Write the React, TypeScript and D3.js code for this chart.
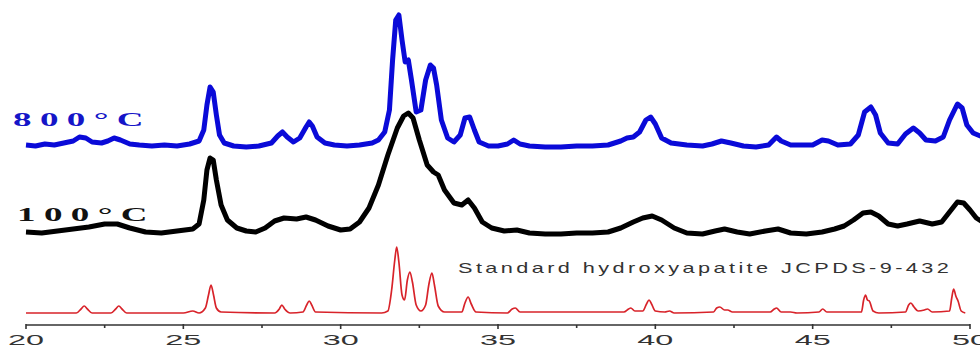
import React from "react";
import * as d3 from "d3";

// 2θ (degrees) and intensity (a.u.) for each pattern
const blueTheta = [20.0,20.3,20.6,20.9,21.2,21.5,21.7,21.9,22.1,22.4,22.6,22.8,23.0,23.3,23.6,24.0,24.4,24.8,25.2,25.5,25.65,25.75,25.85,25.95,26.05,26.15,26.3,26.6,27.0,27.4,27.8,28.0,28.15,28.3,28.5,28.7,28.9,29.0,29.1,29.25,29.5,29.8,30.2,30.6,31.0,31.2,31.4,31.55,31.65,31.75,31.85,31.95,32.05,32.15,32.25,32.4,32.55,32.7,32.85,32.95,33.05,33.2,33.4,33.6,33.8,33.95,34.1,34.25,34.4,34.7,35.0,35.3,35.5,35.7,36.0,36.5,37.0,37.5,38.0,38.5,38.9,39.1,39.3,39.5,39.7,39.85,40.0,40.2,40.5,41.0,41.5,41.8,42.1,42.4,42.8,43.2,43.6,43.85,44.0,44.3,44.7,45.0,45.3,45.5,45.8,46.2,46.45,46.65,46.85,47.0,47.15,47.4,47.7,47.95,48.2,48.4,48.6,48.9,49.15,49.35,49.6,49.75,49.9,50.1,50.4];
const blueInt = [180,179,181,180,182,184,188,187,183,182,184,187,185,181,180,179,180,179,181,184,195,220,238,233,210,190,182,179,178,179,182,189,193,188,183,187,198,203,199,188,182,180,179,180,182,185,193,215,265,305,310,285,263,265,245,213,215,245,260,257,240,205,187,183,190,207,208,195,183,179,179,181,185,181,179,178,178,179,179,180,184,187,188,193,205,208,201,187,182,180,179,181,184,182,179,178,180,188,184,180,180,180,185,184,180,181,190,213,218,210,192,182,181,191,197,192,185,184,188,205,221,217,200,192,188];

const blackTheta = [20.0,20.5,21.0,21.5,22.0,22.5,22.9,23.3,23.8,24.3,24.8,25.3,25.5,25.65,25.75,25.85,25.95,26.05,26.2,26.4,26.7,27.0,27.3,27.6,27.9,28.2,28.6,28.9,29.2,29.6,30.0,30.3,30.6,30.9,31.2,31.5,31.8,32.0,32.15,32.3,32.5,32.75,32.95,33.1,33.3,33.6,33.85,34.05,34.25,34.5,34.8,35.2,35.6,36.0,36.5,37.0,37.5,38.0,38.5,38.9,39.3,39.6,39.9,40.2,40.6,41.0,41.5,41.9,42.2,42.6,43.0,43.5,43.9,44.3,44.8,45.3,45.7,46.0,46.3,46.6,46.85,47.1,47.4,47.7,48.0,48.4,48.8,49.1,49.35,49.6,49.8,50.0,50.2,50.4];
const blackInt = [93,92,94,96,98,101,101,97,93,92,94,96,101,125,155,167,165,145,120,105,97,94,93,97,104,107,106,108,105,99,95,96,103,117,140,170,197,209,212,207,185,160,153,150,135,122,120,125,117,103,97,94,95,92,91,91,92,92,93,97,103,107,109,105,97,92,91,94,96,93,91,94,96,92,91,93,96,99,105,112,113,109,101,99,101,104,101,103,113,123,122,115,107,103];

const redTheta = [20.0,21.6,21.75,21.85,21.95,22.1,22.7,22.85,22.95,23.05,23.2,25.0,25.3,25.5,25.7,25.8,25.88,25.96,26.05,26.2,27.9,28.05,28.13,28.22,28.4,28.8,28.92,29.0,29.08,29.2,31.3,31.5,31.62,31.72,31.78,31.85,31.95,32.03,32.12,32.2,32.28,32.4,32.55,32.7,32.8,32.9,32.98,33.1,33.3,33.85,33.95,34.05,34.15,34.3,35.3,35.45,35.55,35.7,39.0,39.15,39.22,39.35,39.6,39.72,39.8,39.88,40.0,40.3,40.45,40.6,41.85,41.95,42.05,42.2,42.3,42.45,43.65,43.78,43.85,44.0,44.3,44.5,45.2,45.32,45.45,46.55,46.62,46.68,46.74,46.8,46.92,47.1,47.95,48.05,48.12,48.22,48.35,48.55,48.65,48.8,49.35,49.42,49.48,49.55,49.62,49.72,49.85];
const redInt = [12,12,16,19,16,12,12,16,19,16,12,12,14,12,17,30,40,30,17,13,12,16,20,16,12,13,20,24,20,13,12,14,35,65,78,63,30,25,45,53,43,20,14,20,40,52,40,19,13,13,22,28,21,13,12,16,17,13,13,16,17,14,14,21,25,21,14,13,14,12,13,17,18,15,15,13,13,16,17,13,13,12,13,16,13,13,25,30,25,24,14,12,13,20,22,18,14,15,16,13,14,27,36,29,24,14,12];

const xTicks = [20, 25, 30, 35, 40, 45, 50];
const xMinorTicks = [22.5, 27.5, 32.5, 37.5, 42.5, 47.5];
const label800 = "800°C";
const label100 = "100°C";
const labelStd = "Standard hydroxyapatite JCPDS-9-432";

export default function App() {
  const W = 980, H = 347;
  const x = d3.scaleLinear().domain([20, 50]).range([26, 970]);
  const y = d3.scaleLinear().domain([0, 325]).range([325, 0]);
  const mk = (t: number[], v: number[]) => t.map((d, i) => [d, v[i]] as [number, number]);
  const line = d3.line<[number, number]>().x(d => x(d[0])).y(d => y(d[1]));
  const smooth = d3.line<[number, number]>().x(d => x(d[0])).y(d => y(d[1])).curve(d3.curveMonotoneX);
  const axisY = y(0);
  const sx = 1.9;
  const ss = 1.55;
  return (
    <svg width={W} height={H} style={{ position: "absolute", left: 0, top: 0, background: "#fff" }}>
      <path d={smooth(mk(redTheta, redInt)) || ""} fill="none" stroke="#d8232a" strokeWidth={1.7} strokeLinejoin="round" />
      <path d={line(mk(blackTheta, blackInt)) || ""} fill="none" stroke="#000" strokeWidth={5} strokeLinejoin="round" />
      <path d={line(mk(blueTheta, blueInt)) || ""} fill="none" stroke="#0a0ad8" strokeWidth={5} strokeLinejoin="round" />
      <line x1={x(20)} x2={x(50)} y1={axisY} y2={axisY} stroke="#333" strokeWidth={1.6} />
      {xTicks.map(t => (
        <g key={t}>
          <line x1={x(t)} x2={x(t)} y1={axisY - 1} y2={axisY + 4} stroke="#333" strokeWidth={1.6} />
          <text x={x(t)} y={345} textAnchor="middle" fontFamily="Liberation Sans, Arial, sans-serif" fontSize={14}
            textLength={36} lengthAdjust="spacingAndGlyphs" fill="#333">{t}</text>
        </g>
      ))}
      {xMinorTicks.map(t => (
        <line key={t} x1={x(t)} x2={x(t)} y1={axisY} y2={axisY + 3} stroke="#333" strokeWidth={1.6} />
      ))}
      <text transform={`translate(13,126) scale(${sx},1)`} fontFamily="Liberation Serif, Times New Roman, serif" fontWeight="bold" fontSize={19.5}
        letterSpacing={4.4} fill="#1515c8">{label800}</text>
      <text transform={`translate(17,221) scale(${sx},1)`} fontFamily="Liberation Serif, Times New Roman, serif" fontWeight="bold" fontSize={19.5}
        letterSpacing={4.4} fill="#111">{label100}</text>
      <text transform={`translate(458,273) scale(${ss},1)`} fontFamily="Liberation Sans, Arial, sans-serif" fontSize={14}
        letterSpacing={2.2} fill="#333">{labelStd}</text>
    </svg>
  );
}
